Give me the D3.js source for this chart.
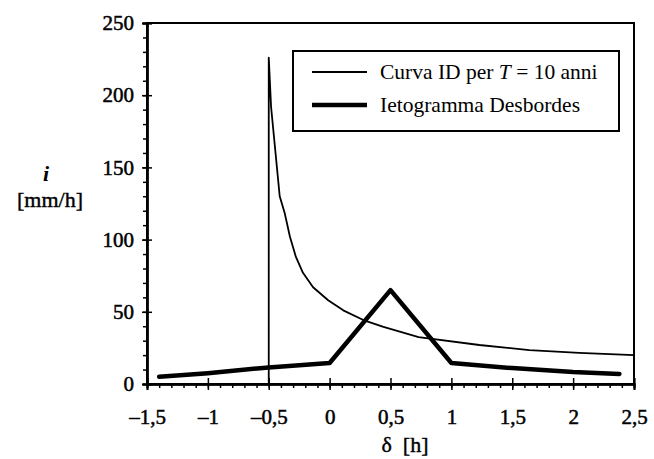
<!DOCTYPE html>
<html>
<head>
<meta charset="utf-8">
<script src="https://cdn.jsdelivr.net/npm/d3@7"></script>
<style>
  body { margin: 0; background: #fff; }
  svg { font-family: "Liberation Serif", "Times New Roman", serif; }
</style>
</head>
<body>
<svg width="654" height="459"></svg>
<script>
// curva IDF (T = 10 anni)
var idfX = [-0.5, -0.5, -0.481, -0.41, -0.368, -0.326, -0.277, -0.219, -0.136, -0.012, 0.112, 0.277, 0.442, 0.731, 1.23, 1.64, 2.05, 2.5]
var idfY = [0, 226, 192, 130, 118, 102, 88, 77, 67, 58, 51, 44.3, 39.5, 32.5, 27, 23.5, 21.5, 20]

// ietogramma Desbordes
var ietoX = [-1.4, -1, -0.5, 0, 0.5, 1, 1.5, 2, 2.38]
var ietoY = [5, 7.5, 11.5, 14.5, 65, 14.5, 11, 8.3, 7]

var xTicks = [-1.5, -1, -0.5, 0, 0.5, 1, 1.5, 2, 2.5]
var yTicks = [0, 50, 100, 150, 200, 250]
var legendLabels = ['Curva ID per ', 'Ietogramma Desbordes']

var svg = d3.select('svg')
  , pl = 147, pr = 634, pt = 23, pb = 384

var x = d3.scaleLinear().domain([-1.5, 2.5]).range([pl, pr])
var y = d3.scaleLinear().domain([0, 250]).range([pb, pt])

var fmt = function (d) { return String(d).replace('.', ',').replace('-', '\u2013') }

// frame
svg.append('rect')
  .attr('x', pl).attr('y', pt)
  .attr('width', pr - pl).attr('height', pb - pt)
  .attr('fill', 'none').attr('stroke', '#000').attr('stroke-width', 2)

// y axis: minor ticks, major ticks, labels
svg.append('g').attr('transform', 'translate(' + pl + ',0)')
  .call(d3.axisLeft(y).tickValues(d3.range(0, 251, 10)).tickSize(4).tickFormat(''))
svg.append('g').attr('transform', 'translate(' + pl + ',0)')
  .call(d3.axisRight(y).tickValues(yTicks).tickSize(5).tickFormat(''))
svg.append('g').attr('class', 'ylab').attr('transform', 'translate(' + pl + ',0)')
  .call(d3.axisLeft(y).tickValues(yTicks).tickSize(5).tickPadding(8).tickFormat(fmt))

// x axis
svg.append('g').attr('transform', 'translate(0,' + pb + ')')
  .call(d3.axisBottom(x).tickValues(d3.range(-15, 26).map(function (d) { return d / 10 })).tickSize(4).tickFormat(''))
svg.append('g').attr('transform', 'translate(0,' + pb + ')')
  .call(d3.axisTop(x).tickValues(xTicks).tickSize(6).tickFormat(''))
svg.append('g').attr('class', 'xlab').attr('transform', 'translate(0,' + pb + ')')
  .call(d3.axisBottom(x).tickValues(xTicks).tickSize(6).tickPadding(19).tickFormat(fmt))

svg.selectAll('.domain').attr('stroke', '#000').attr('stroke-width', 2)
svg.selectAll('.tick line').attr('stroke', '#000').attr('stroke-width', 1.5)
svg.selectAll('.tick text').attr('fill', '#000').attr('stroke', '#000').attr('stroke-width', 0.5)
  .style('font-size', '21px').style('font-family', '"Liberation Serif", serif')

// series
var line = d3.line().x(function (d) { return x(d[0]) }).y(function (d) { return y(d[1]) })

svg.append('path')
  .datum(idfX.map(function (d, i) { return [d, idfY[i]] }))
  .attr('d', line).attr('fill', 'none').attr('stroke', '#000')
  .attr('stroke-width', 1.8).attr('stroke-linejoin', 'round')

svg.append('path')
  .datum(ietoX.map(function (d, i) { return [d, ietoY[i]] }))
  .attr('d', line).attr('fill', 'none').attr('stroke', '#000')
  .attr('stroke-width', 4.5).attr('stroke-linejoin', 'round').attr('stroke-linecap', 'round')

// legend
var lg = svg.append('g')
lg.append('rect').attr('x', 293).attr('y', 51).attr('width', 326).attr('height', 80)
  .attr('fill', '#fff').attr('stroke', '#000').attr('stroke-width', 2)
lg.append('line').attr('x1', 312).attr('x2', 367).attr('y1', 72).attr('y2', 72)
  .attr('stroke', '#000').attr('stroke-width', 1.8)
lg.append('line').attr('x1', 312).attr('x2', 367).attr('y1', 105).attr('y2', 105)
  .attr('stroke', '#000').attr('stroke-width', 4.5)
var t1 = lg.append('text').attr('x', 380).attr('y', 79).style('font-size', '21.5px')
t1.append('tspan').text(legendLabels[0])
t1.append('tspan').style('font-style', 'italic').text('T')
t1.append('tspan').text(' = 10 anni')
lg.append('text').attr('x', 380).attr('y', 112).style('font-size', '21.5px').text(legendLabels[1])

// axis titles
svg.append('text').attr('x', 46).attr('y', 181).attr('text-anchor', 'middle')
  .style('font-size', '22px').style('font-style', 'italic').style('font-weight', 'bold').text('i')
svg.append('text').attr('x', 50).attr('y', 207).attr('text-anchor', 'middle')
  .attr('stroke', '#000').attr('stroke-width', 0.4)
  .style('font-size', '22px').text('[mm/h]')
svg.append('text').attr('x', 405).attr('y', 452).attr('text-anchor', 'middle')
  .attr('stroke', '#000').attr('stroke-width', 0.4)
  .style('font-size', '22px').style('white-space', 'pre').text('\u03b4  [h]')
</script>
</body>
</html>
